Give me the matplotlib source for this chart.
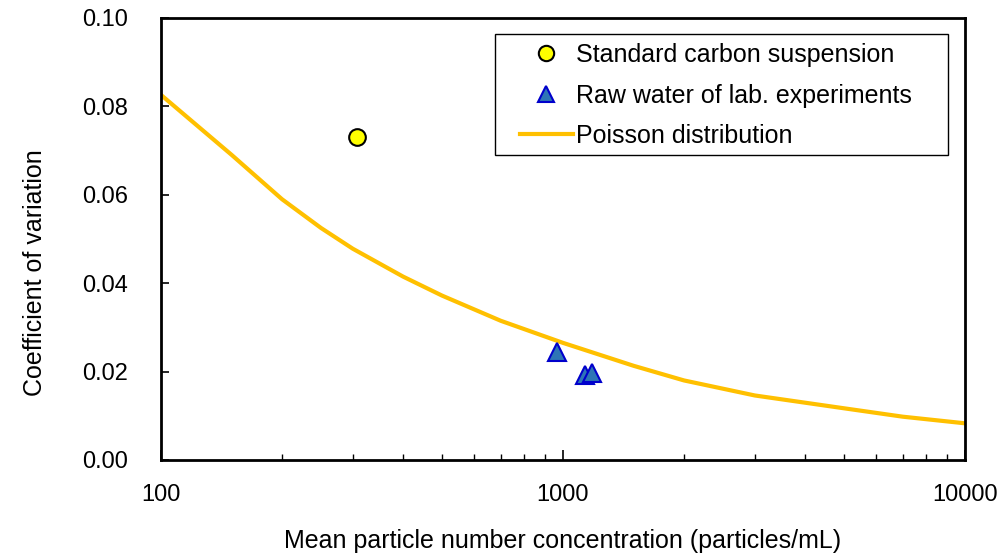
import matplotlib
matplotlib.use("Agg")
import matplotlib.pyplot as plt
from matplotlib.patches import Rectangle
from matplotlib.ticker import FixedLocator, FuncFormatter, LogLocator, NullFormatter

# values
carbon_x = [307]
carbon_cv = [0.0731]

raw_x = [966, 1135, 1180]
raw_cv = [0.0244, 0.0192, 0.0196]

poisson_x = [100, 150, 200, 250, 300, 400, 500, 700, 1000, 1500, 2000, 3000, 5000, 7000, 10000]
poisson_cv = [0.0826, 0.0690, 0.0590, 0.0525, 0.0478, 0.0415, 0.0372, 0.0315, 0.0265,
              0.0213, 0.0180, 0.0146, 0.0117, 0.0098, 0.0083]

x_ticks = [100, 1000, 10000]
y_ticks = [0.00, 0.02, 0.04, 0.06, 0.08, 0.10]

plt.rcParams['font.family'] = ['Liberation Sans', 'DejaVu Sans']

W, H = 1007, 557
fig = plt.figure(figsize=(W / 100, H / 100), dpi=100)
ax = fig.add_axes([161 / W, 1 - 460 / H, (965 - 161) / W, (460 - 18) / H])

ax.plot(poisson_x, poisson_cv, color='#FFC000', lw=3, label='Poisson distribution', zorder=2)
ax.plot(carbon_x, carbon_cv, ls='none', marker='o', ms=12, mfc='#FFFF00', mec='black',
        mew=1.5, label='Standard carbon suspension', zorder=3)
ax.plot(raw_x, raw_cv, ls='none', marker='^', ms=13, mfc='#2E75B6', mec='#0000CC',
        mew=1.5, label='Raw water of lab. experiments', zorder=3)

ax.set_xscale('log')
ax.set_xlim(100, 10000)
ax.set_ylim(0, 0.10)

ax.xaxis.set_major_locator(FixedLocator(x_ticks))
ax.xaxis.set_major_formatter(FuncFormatter(lambda v, p: f"{int(round(v))}"))
ax.xaxis.set_minor_locator(LogLocator(base=10, subs=range(2, 10)))
ax.xaxis.set_minor_formatter(NullFormatter())
ax.yaxis.set_major_locator(FixedLocator(y_ticks))
ax.yaxis.set_major_formatter(FuncFormatter(lambda v, p: f"{v:.2f}"))

ax.tick_params(axis='x', which='major', direction='in', length=7, width=1.2,
               labelsize=17, pad=17, top=False)
ax.tick_params(axis='x', which='minor', direction='in', length=4.5, width=1.0, top=False)
ax.tick_params(axis='y', which='major', direction='in', length=6, width=1.2,
               labelsize=17, pad=24, right=False)

for s in ax.spines.values():
    s.set_linewidth(2)

ax.set_xlabel('Mean particle number concentration (particles/mL)', fontsize=18)
ax.set_ylabel('Coefficient of variation', fontsize=18)
ax.xaxis.set_label_coords(0.5, (460 - 529) / 442)
ax.yaxis.set_label_coords((47 - 161) / 804, (460 - 273) / 442)

# legend frame drawn separately so its padding matches the original
fig.patches.append(Rectangle((495 / W, 1 - 155 / H), (948 - 495) / W, (155 - 34) / H,
                             transform=fig.transFigure, fill=False, ec='black', lw=1.0,
                             zorder=5))
handles, labels = ax.get_legend_handles_labels()
order = [1, 2, 0]
fig.legend([handles[i] for i in order], [labels[i] for i in order],
           loc='upper left', bbox_to_anchor=(520 / W, 1 - 43 / H),
           bbox_transform=fig.transFigure, frameon=False, fontsize=18,
           borderpad=0, borderaxespad=0, handlelength=2.1, handletextpad=0.16,
           labelspacing=0.66, markerscale=0.92)

fig.savefig('out.png', dpi=100)
